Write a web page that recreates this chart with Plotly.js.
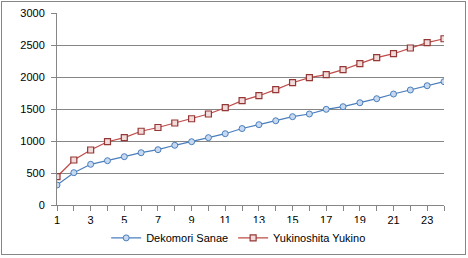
<!DOCTYPE html>
<html><head><meta charset="utf-8">
<script src="https://cdn.plot.ly/plotly-3.0.1.min.js"></script>
<style>
html,body{margin:0;padding:0;background:#fff;}
#wrap{position:relative;width:468px;height:258px;}
#chart{width:468px;height:258px;}
#frame{position:absolute;left:1px;top:1px;width:465px;height:254px;border:1px solid #868686;box-sizing:border-box;pointer-events:none;}
</style></head>
<body>
<div id="wrap"><div id="chart"></div><div id="frame"></div></div>
<script>
const categories = [1,2,3,4,5,6,7,8,9,10,11,12,13,14,15,16,17,18,19,20,21,22,23,24];
const dekomoriSanae = [312,505,636,692,755,817,864,933,989,1052,1114,1195,1255,1316,1380,1422,1495,1536,1598,1661,1734,1797,1864,1927];
const yukinoshitaYukino = [442,703,859,989,1052,1152,1211,1281,1348,1422,1520,1630,1708,1802,1911,1989,2036,2114,2208,2302,2364,2453,2536,2598];
const seriesNames = ["Dekomori Sanae", "Yukinoshita Yukino"];
const xTickLabels = categories.map(c => (c % 2 === 1 ? String(c) : ""));
const yTicks = [0,500,1000,1500,2000,2500,3000];

const font = {family: "Liberation Sans, Arial, sans-serif", size: 11, color: "#000"};

const traces = [
  {x: categories, y: dekomoriSanae, name: seriesNames[0], type: "scatter", mode: "lines+markers",
   line: {color: "#4a7ebb", width: 1.2},
   marker: {symbol: "circle", size: 6, color: "#c6d9f1", line: {color: "#4a7ebb", width: 1}}},
  {x: categories, y: yukinoshitaYukino, name: seriesNames[1], type: "scatter", mode: "lines+markers",
   line: {color: "#be4b48", width: 1.2},
   marker: {symbol: "square", size: 6, color: "#f2dcdb", line: {color: "#953735", width: 1.2}}}
];

const layout = {
  width: 468, height: 258,
  margin: {l: 57, r: 24, t: 13, b: 53, pad: 0},
  paper_bgcolor: "#fff", plot_bgcolor: "#fff",
  font: font,
  showlegend: true,
  legend: {orientation: "h", x: 0.51, xanchor: "center", xref: "container",
           y: 0.078, yanchor: "middle", yref: "container",
           font: font, itemwidth: 30, tracegroupgap: 0},
  xaxis: {range: [1, 24], tickmode: "array", tickvals: categories, ticktext: xTickLabels,
          ticks: "outside", ticklen: 5, tickcolor: "#868686", tickwidth: 1,
          showline: true, linecolor: "#868686", linewidth: 1, showgrid: false, zeroline: false,
          tickfont: font, fixedrange: true},
  yaxis: {range: [0, 3000], tickmode: "array", tickvals: yTicks,
          ticks: "outside", ticklen: 5, tickcolor: "#868686", tickwidth: 1, ticklabelstandoff: 4,
          showline: true, linecolor: "#868686", linewidth: 1,
          showgrid: true, gridcolor: "#868686", gridwidth: 1, zeroline: false,
          tickfont: font, fixedrange: true}
};

Plotly.newPlot("chart", traces, layout, {displayModeBar: false, staticPlot: true});
</script>
</body></html>
